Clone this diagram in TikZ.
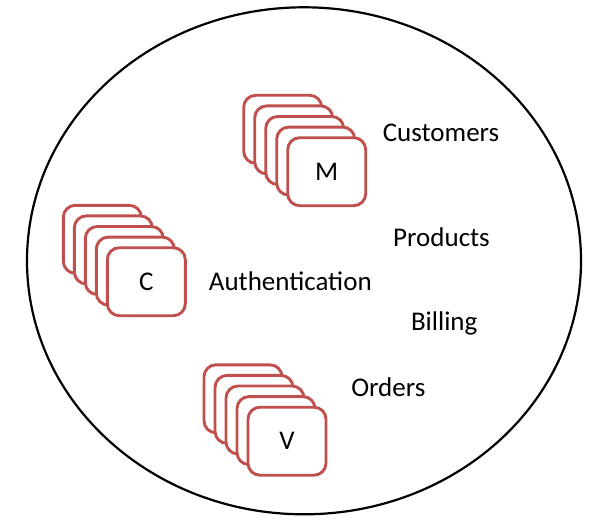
\documentclass[tikz,border=0pt]{standalone}
\usepackage{fontspec}
\setmainfont{Carlito}
\definecolor{cardred}{HTML}{C0504D}
\tikzset{
  card/.style={draw=cardred, line width=2.9pt, fill=white, rounded corners=12pt,
    minimum width=78pt, minimum height=68pt, inner sep=0pt},
  word/.style={anchor=base, inner sep=0pt}
}
\begin{document}
\begin{tikzpicture}[x=1pt,y=-1pt]
\useasboundingbox (0,0) rectangle (604,524);
\fontsize{27}{31}\selectfont

% the service boundary
\draw[line width=2.2pt] (304,260.8) ellipse (277 and 253.5);

% M stack
\node[card] (m1) at (282.7,129.3) {};
\node[card] (m2) at (293.7,139.9) {};
\node[card] (m3) at (304.7,150.5) {};
\node[card] (m4) at (315.7,161.1) {};
\node[card] (m5) at (326.7,171.7) {M};

% C stack
\node[card] (c1) at (102.3,239.3) {};
\node[card] (c2) at (113.3,249.9) {};
\node[card] (c3) at (124.3,260.5) {};
\node[card] (c4) at (135.3,271.1) {};
\node[card] (c5) at (146.3,281.7) {C};

% V stack
\node[card] (v1) at (243,398.8) {};
\node[card] (v2) at (254,409.4) {};
\node[card] (v3) at (265,420) {};
\node[card] (v4) at (276,430.6) {};
\node[card] (v5) at (287,441.2) {V};

\node[word] (customers) at (441,141.7) {Customers};
\node[word] (products) at (441.5,246.7) {Products};
\node[word] (auth) at (290.3,290) {Authentication};
\node[word] (billing) at (444.2,330.7) {Billing};
\node[word] (orders) at (388.3,396.7) {Orders};
\end{tikzpicture}
\end{document}
